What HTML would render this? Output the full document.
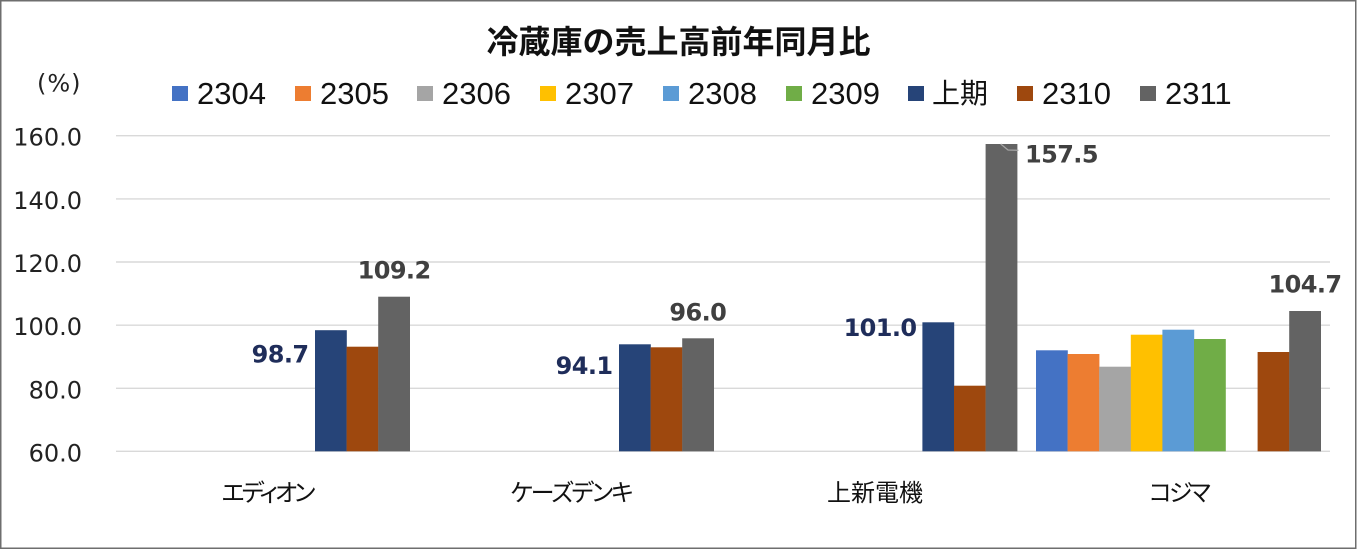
<!DOCTYPE html>
<html><head><meta charset="utf-8"><style>
html,body{margin:0;padding:0;background:#fff;}
svg{display:block;}
.ax{font-family:"DejaVu Sans",sans-serif;font-size:24px;fill:#222;}
.lg{font-family:"Liberation Sans","Noto Sans CJK JP",sans-serif;font-size:31px;fill:#111;}
.cat{font-family:"Liberation Sans","Noto Sans CJK JP",sans-serif;font-size:24px;fill:#111;font-feature-settings:"palt";}
.dl{font-family:"DejaVu Sans",sans-serif;font-weight:bold;font-size:24px;letter-spacing:-0.6px;}
</style></head><body>
<svg width="1357" height="550" viewBox="0 0 1357 550" xmlns="http://www.w3.org/2000/svg">
<rect x="0" y="0" width="1357" height="550" fill="#fff"/>
<rect x="0.75" y="0.75" width="1355" height="547.5" fill="none" stroke="#6e6e6e" stroke-width="1.5"/>
<text x="678.5" y="53" text-anchor="middle" style="font-family:'Liberation Sans','Noto Sans CJK JP',sans-serif;font-weight:bold;font-size:32px;fill:#111;">冷蔵庫の売上高前年同月比</text>
<text x="37" y="91.5" class="ax" style="letter-spacing:1px">(%)</text>
<!-- legend -->
<rect x="172" y="86" width="16" height="15" fill="#4472C4"/><text x="197" y="104" class="lg">2304</text>
<rect x="295" y="86" width="16" height="15" fill="#ED7D31"/><text x="320" y="104" class="lg">2305</text>
<rect x="417" y="86" width="16" height="15" fill="#A5A5A5"/><text x="442" y="104" class="lg">2306</text>
<rect x="540" y="86" width="16" height="15" fill="#FFC000"/><text x="565" y="104" class="lg">2307</text>
<rect x="663" y="86" width="16" height="15" fill="#5B9BD5"/><text x="688" y="104" class="lg">2308</text>
<rect x="786" y="86" width="16" height="15" fill="#70AD47"/><text x="811" y="104" class="lg">2309</text>
<rect x="908" y="86" width="16" height="15" fill="#264478"/><text x="932" y="103" class="lg" style="font-size:28px">上期</text>
<rect x="1017" y="86" width="16" height="15" fill="#9E480E"/><text x="1042" y="104" class="lg">2310</text>
<rect x="1140" y="86" width="16" height="15" fill="#636363"/><text x="1165" y="104" class="lg">2311</text>
<!-- gridlines -->
<g stroke="#D9D9D9" stroke-width="1.4">
<line x1="116" y1="135.7" x2="1330" y2="135.7"/>
<line x1="116" y1="198.9" x2="1330" y2="198.9"/>
<line x1="116" y1="262.0" x2="1330" y2="262.0"/>
<line x1="116" y1="325.2" x2="1330" y2="325.2"/>
<line x1="116" y1="388.3" x2="1330" y2="388.3"/>
<line x1="116" y1="451.3" x2="1330" y2="451.3"/>
</g>
<!-- y labels -->
<g class="ax" text-anchor="end">
<text x="82" y="145.7">160.0</text>
<text x="82" y="208.9">140.0</text>
<text x="82" y="272.0">120.0</text>
<text x="82" y="335.2">100.0</text>
<text x="82" y="398.3">80.0</text>
<text x="82" y="461.3">60.0</text>
</g>
<!-- bars: エディオン -->
<rect x="315" y="330.2" width="31.8" height="121.1" fill="#264478"/>
<rect x="346.6" y="346.7" width="31.8" height="104.6" fill="#9E480E"/>
<rect x="378.2" y="296.7" width="31.8" height="154.6" fill="#636363"/>
<!-- ケーズデンキ -->
<rect x="619" y="344.3" width="31.8" height="107" fill="#264478"/>
<rect x="650.6" y="347.3" width="31.8" height="104" fill="#9E480E"/>
<rect x="682.2" y="338.3" width="31.8" height="113" fill="#636363"/>
<!-- 上新電機 -->
<rect x="922.4" y="322.3" width="31.8" height="129" fill="#264478"/>
<rect x="954" y="385.7" width="31.8" height="65.6" fill="#9E480E"/>
<rect x="985.6" y="144" width="31.8" height="307.3" fill="#636363"/>
<!-- コジマ -->
<rect x="1036" y="350.3" width="31.8" height="101" fill="#4472C4"/>
<rect x="1067.6" y="354" width="31.8" height="97.3" fill="#ED7D31"/>
<rect x="1099.2" y="366.7" width="31.8" height="84.6" fill="#A5A5A5"/>
<rect x="1130.8" y="334.7" width="31.8" height="116.6" fill="#FFC000"/>
<rect x="1162.4" y="329.7" width="31.8" height="121.6" fill="#5B9BD5"/>
<rect x="1194" y="339" width="31.8" height="112.3" fill="#70AD47"/>
<rect x="1257.6" y="352" width="31.8" height="99.3" fill="#9E480E"/>
<rect x="1289.2" y="311" width="31.8" height="140.3" fill="#636363"/>
<!-- leader line -->
<polyline points="1000.7,144 1008,150 1018.5,150.3" fill="none" stroke="#A6A6A6" stroke-width="1.2"/>
<!-- data labels -->
<g class="dl" fill="#1F2D5A">
<text x="308.5" y="362.7" text-anchor="end">98.7</text>
<text x="612.5" y="373.8" text-anchor="end">94.1</text>
<text x="916.5" y="335.8" text-anchor="end">101.0</text>
</g>
<g class="dl" fill="#404040">
<text x="394.1" y="278.3" text-anchor="middle">109.2</text>
<text x="697.8" y="320.5" text-anchor="middle">96.0</text>
<text x="1025" y="162.3">157.5</text>
<text x="1305" y="292.7" text-anchor="middle">104.7</text>
</g>
<!-- category labels -->
<g class="cat" text-anchor="middle">
<text x="267" y="501" style="letter-spacing:-3px">エディオン</text>
<text x="571" y="501" style="letter-spacing:-2px">ケーズデンキ</text>
<text x="875" y="501">上新電機</text>
<text x="1178.5" y="501" style="letter-spacing:-3px">コジマ</text>
</g>
</svg>
</body></html>
